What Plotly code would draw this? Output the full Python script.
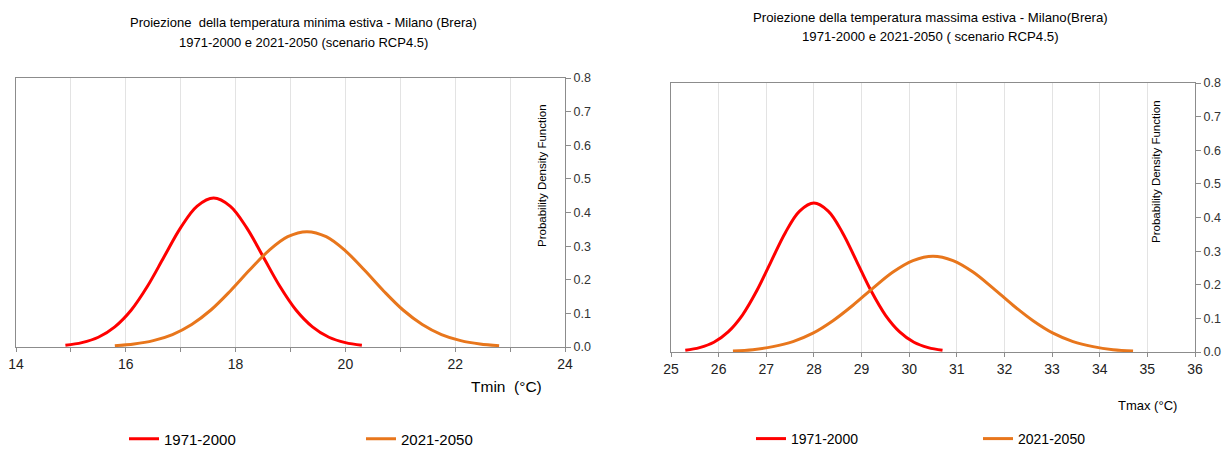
import plotly.graph_objects as go

W, H = 1226, 449

def px(x):
    return x / W

def py(y):
    return 1 - y / H

# ---- Data ----
series_names = ["1971-2000", "2021-2050"]

tmin_1971_x = [14.9, 15.2, 15.5, 15.8, 16.1, 16.4, 16.7, 17.0, 17.3, 17.6,
               17.9, 18.2, 18.5, 18.8, 19.1, 19.4, 19.7, 20.0, 20.3]
tmin_1971_y = [0.005, 0.013, 0.029, 0.060, 0.110, 0.182, 0.269, 0.355, 0.419, 0.443,
               0.419, 0.355, 0.269, 0.182, 0.110, 0.060, 0.029, 0.013, 0.005]

tmin_2021_x = [15.8, 16.15, 16.5, 16.85, 17.2, 17.55, 17.9, 18.25, 18.6, 18.95, 19.3,
               19.65, 20.0, 20.35, 20.7, 21.05, 21.4, 21.75, 22.1, 22.45, 22.8]
tmin_2021_y = [0.004, 0.009, 0.019, 0.037, 0.067, 0.110, 0.166, 0.228, 0.286, 0.328, 0.343,
               0.328, 0.286, 0.228, 0.166, 0.110, 0.067, 0.037, 0.019, 0.009, 0.004]

tmax_1971_x = [25.3, 25.6, 25.9, 26.2, 26.5, 26.8, 27.1, 27.4, 27.7, 28.0,
               28.3, 28.6, 28.9, 29.2, 29.5, 29.8, 30.1, 30.4, 30.7]
tmax_1971_y = [0.005, 0.013, 0.029, 0.060, 0.110, 0.182, 0.269, 0.355, 0.419, 0.443,
               0.419, 0.355, 0.269, 0.182, 0.110, 0.060, 0.029, 0.013, 0.005]

tmax_2021_x = [26.3, 26.72, 27.14, 27.56, 27.98, 28.4, 28.82, 29.24, 29.66, 30.08, 30.5,
               30.92, 31.34, 31.76, 32.18, 32.6, 33.02, 33.44, 33.86, 34.28, 34.7]
tmax_2021_y = [0.003, 0.007, 0.016, 0.031, 0.056, 0.093, 0.139, 0.190, 0.238, 0.272, 0.285,
               0.272, 0.238, 0.190, 0.139, 0.093, 0.056, 0.031, 0.016, 0.007, 0.003]

y_ticks = [0.0, 0.1, 0.2, 0.3, 0.4, 0.5, 0.6, 0.7, 0.8]

RED = "#FF0000"
ORANGE = "#E8761C"
FONT = "Liberation Sans, Arial, sans-serif"
AXC = "#8C8C8C"
GRID = "#E3E3E3"

fig = go.Figure()

traces = [
    (tmin_1971_x, tmin_1971_y, series_names[0], RED, "x", "y", "legend"),
    (tmin_2021_x, tmin_2021_y, series_names[1], ORANGE, "x", "y", "legend2"),
    (tmax_1971_x, tmax_1971_y, series_names[0], RED, "x2", "y2", "legend3"),
    (tmax_2021_x, tmax_2021_y, series_names[1], ORANGE, "x2", "y2", "legend4"),
]
for xs, ys, nm, col, xa, ya, lg in traces:
    fig.add_trace(go.Scatter(x=xs, y=ys, mode="lines", name=nm,
                             line=dict(color=col, width=3, shape="spline"),
                             xaxis=xa, yaxis=ya, legend=lg))

xcommon = dict(showline=True, linecolor=AXC, linewidth=1, mirror=True,
               ticks="outside", ticklen=4, tickcolor=AXC,
               showgrid=True, gridcolor=GRID, gridwidth=1, zeroline=False,
               tickfont=dict(family=FONT, size=14, color="#222"))
ycommon = dict(showline=True, linecolor=AXC, linewidth=1, mirror=True, side="right",
               ticks="outside", ticklen=5, tickcolor=AXC, showgrid=False, zeroline=False,
               range=[0, 0.8], tickvals=y_ticks, tickformat=".1f",
               tickfont=dict(family=FONT, size=12.5, color="#333"))

def legend_at(xtext, ytext, size):
    return dict(orientation="h", x=px(xtext - 41), y=py(ytext), xanchor="left", yanchor="middle",
                itemwidth=30, font=dict(family=FONT, size=size, color="#000"),
                bgcolor="rgba(0,0,0,0)")

fig.update_layout(
    width=W, height=H,
    margin=dict(l=0, r=0, t=0, b=0, autoexpand=False),
    paper_bgcolor="white", plot_bgcolor="white",
    font=dict(family=FONT, color="#000"),
    xaxis=dict(xcommon, domain=[px(16), px(565)], range=[14, 24], dtick=2,
               minor=dict(dtick=1, ticks="outside", ticklen=4, tickcolor=AXC,
                          showgrid=True, gridcolor=GRID), anchor="y"),
    yaxis=dict(ycommon, domain=[py(347), py(78)], anchor="x"),
    xaxis2=dict(xcommon, domain=[px(671), px(1195)], range=[25, 36], dtick=1, anchor="y2"),
    yaxis2=dict(ycommon, domain=[py(352), py(83)], anchor="x2"),
    legend=legend_at(165, 439, 15),
    legend2=legend_at(402, 439, 15),
    legend3=legend_at(792, 439, 14),
    legend4=legend_at(1019, 439, 14),
    showlegend=True,
)

ann = []
def add_text(text, x, y, size, angle=0):
    ann.append(dict(text=text, x=px(x), y=py(y), xref="paper", yref="paper", showarrow=False,
                    xanchor="center", yanchor="middle", textangle=angle,
                    font=dict(family=FONT, size=size, color="#000")))

add_text("Proiezione  della temperatura minima estiva - Milano (Brera)", 303, 22, 13)
add_text("1971-2000 e 2021-2050 (scenario RCP4.5)", 303, 42, 13)
add_text("Proiezione della temperatura massima estiva - Milano(Brera)", 930, 18, 13.2)
add_text("1971-2000 e 2021-2050 ( scenario RCP4.5)", 930, 37, 13.2)
add_text("Tmin  (°C)", 507, 386, 15.5)
add_text("Tmax (°C)", 1147, 405, 13)
add_text("Probability Density Function", 542, 176, 11.5, -90)
add_text("Probability Density Function", 1156, 172, 11.5, -90)
fig.update_layout(annotations=ann)

fig.write_html(
    "out.html",
    config={"displayModeBar": False},
    post_script="document.body.style.margin='0';document.body.style.overflow='hidden';",
)
